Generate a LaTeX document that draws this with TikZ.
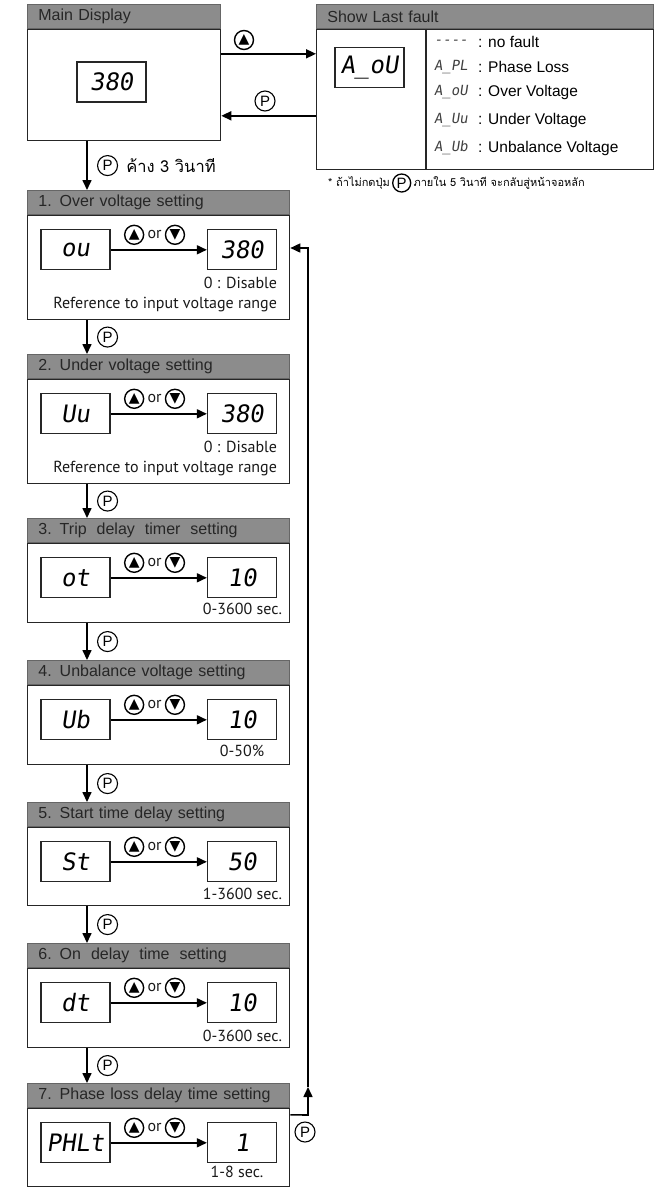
\documentclass[tikz,border=0pt]{standalone}
\usepackage{xcolor}
\usepackage{fontspec}
\usepackage{tikz}
\usetikzlibrary{positioning,arrows.meta}
\setmainfont{Liberation Sans}
\newfontfamily\notefont{PT Sans}
\newfontfamily\segfont[FakeSlant=0.15]{DejaVu Sans Mono}
\newfontfamily\symfont{DejaVu Sans}
\newfontfamily\thaifont[Script=Thai]{Loma}
\definecolor{hdrgray}{RGB}{140,140,140}

\begin{document}
\begin{tikzpicture}[x=1pt, y=-1pt,
    flow/.style={-{Triangle[length=10pt,width=9pt]}, line width=1.6pt},
    header/.style={draw=black!60, fill=hdrgray, line width=0.8pt, anchor=north west,
        minimum height=24pt, inner xsep=11pt, inner ysep=0pt, align=left,
        font=\fontsize{16}{18}\selectfont, text=black!85},
    body/.style={draw=black!85, line width=1.3pt, anchor=north west, inner sep=0pt},
    seg/.style={draw=black!85, line width=1.3pt, minimum width=69pt, minimum height=40pt,
        inner sep=0pt, font=\segfont\fontsize{24}{24}\selectfont},
    btnsym/.style={circle, draw, line width=1.4pt, minimum size=19pt, inner sep=0pt,
        font=\symfont\fontsize{14}{14}\selectfont},
    btnp/.style={circle, draw, line width=1.1pt, minimum size=20pt, inner sep=0pt,
        font=\fontsize{15}{15}\selectfont},
    note/.style={font=\notefont\fontsize{16}{18}\selectfont, inner sep=0pt, text=black!90},
    legend/.style={font=\fontsize{15.5}{17}\selectfont, inner sep=0pt},
    code/.style={font=\segfont\fontsize{14}{14}\selectfont, inner sep=0pt, text=black!75},
    thai/.style={font=\thaifont\fontsize{16.5}{18}\selectfont, inner sep=0pt},
    thaismall/.style={font=\thaifont\fontsize{11}{12}\selectfont, inner sep=0pt}]
    \useasboundingbox (0,0) rectangle (670,1187);

    % main display and last fault
    \node[header, text width=171pt] (hmain) at (27,4) {Main Display};
    \node[body, minimum width=193pt, minimum height=111pt] (bmain) at (hmain.south west) {};
    \node[seg] (dmain) at (111.5,82) {380};
    \node[header, text width=315pt] (hshow) at (316,4) {Show Last fault};
    \node[body, minimum width=337pt, minimum height=140pt] (bshow) at (hshow.south west) {};
    \draw[draw=black!85, line width=1.3pt] ([xshift=110pt]bshow.north west) -- ([xshift=110pt]bshow.south west);
    \node[seg] (dshow) at (369.5,67.5) {A\_oU};
    \foreach \k/\y/\cd/\txt in {1/42/----/no fault, 2/67/A\_PL/Phase Loss,
        3/92/A\_oU/Over Voltage, 4/120/A\_Uu/Under Voltage, 5/148/A\_Ub/Unbalance Voltage}{
        \node[code, anchor=west] (c\k) at (434,\y) {\cd};
        \node[legend, anchor=west] (e\k) at (478,\y) {: \txt};
    }
    \draw[flow] ([yshift=-25pt]bmain.north east) -- ([yshift=-25pt]bshow.north west);
    \draw[flow] ([yshift=-87pt]bshow.north west) -- ([yshift=-87pt]bmain.north east);
    \node[btnsym] (umain) at (244,40) {▲};
    \node[btnp] (pback) at (265,101) {P};

    % footnote
    \node[thaismall, anchor=west] (fn1) at (328,183) {* ถ้าไม่กดปุ่ม};
    \node[btnp, minimum size=18pt, line width=1.3pt, right=2pt of fn1] (fnp) {P};
    \node[thaismall, right=2pt of fnp] (fn2) {ภายใน 5 วินาที จะกลับสู่หน้าจอหลัก};

    % setting blocks
    \foreach \i/\top/\bh/\title/\code/\val in {
        1/190/104/{1. Over voltage setting}/ou/380,
        2/354/104/{2. Under voltage setting}/Uu/380,
        3/518/79/{3. Trip\hspace{10pt}delay\hspace{10pt}timer\hspace{10pt}setting}/ot/10,
        4/660/79/{4. Unbalance voltage setting}/Ub/10,
        5/802/78/{5. Start time delay setting}/St/50,
        6/943/79/{6. On\hspace{10pt}delay\hspace{10pt}time\hspace{10pt}setting}/dt/10,
        7/1083/78/{7. Phase loss delay time setting}/PHLt/1}{
        \node[header, text width=240pt] (h\i) at (27,\top) {\title};
        \node[body, minimum width=262pt, minimum height=\bh pt] (b\i) at (h\i.south west) {};
        \node[seg] (l\i) at ([xshift=48.5pt, yshift=-35pt]b\i.north west) {\code};
        \node[seg] (r\i) at ([xshift=215pt, yshift=-35pt]b\i.north west) {\val};
        \draw[flow] (l\i) -- (r\i);
        \node[btnsym] (u\i) at ([xshift=23.5pt, yshift=15pt]l\i.east) {▲};
        \node[note, right=3pt of u\i] (or\i) {or};
        \node[btnsym, right=3pt of or\i] (d\i) {▼};
    }

    % ranges
    \node[note, anchor=mid east] (n1a) at ([yshift=-15pt]r1.south east) {0 : Disable};
    \node[note, anchor=mid east] (n1b) at ([yshift=-35pt]r1.south east) {Reference to input voltage range};
    \node[note, anchor=mid east] (n2a) at ([yshift=-15pt]r2.south east) {0 : Disable};
    \node[note, anchor=mid east] (n2b) at ([yshift=-35pt]r2.south east) {Reference to input voltage range};
    \node[note, anchor=mid east] (n3) at ([xshift=5pt, yshift=-13pt]r3.south east) {0-3600 sec.};
    \node[note, anchor=mid] (n4) at ([yshift=-13pt]r4.south) {0-50\%};
    \node[note, anchor=mid east] (n5) at ([xshift=5pt, yshift=-14pt]r5.south east) {1-3600 sec.};
    \node[note, anchor=mid east] (n6) at ([xshift=5pt, yshift=-15pt]r6.south east) {0-3600 sec.};
    \node[note, anchor=mid] (n7) at ([xshift=-5pt, yshift=-11pt]r7.south) {1-8 sec.};

    % P steps
    \draw[flow] ([xshift=60pt]bmain.south west) -- ([xshift=60pt]h1.north west)
        node[btnp, midway, right=10pt] (phold) {P};
    \node[thai, right=8pt of phold] (hold) {ค้าง 3 วินาที};
    \foreach \i/\j in {1/2,2/3,3/4,4/5,5/6,6/7}{
        \draw[flow] ([xshift=60pt]b\i.south west) -- ([xshift=60pt]h\j.north west)
            node[btnp, midway, right=10pt] (p\i) {P};
    }

    % back to first setting
    \coordinate (loopA) at (308,1115);
    \coordinate (loopB) at (308,1087);
    \coordinate (loopC) at (308,248);
    \draw[flow] ([yshift=-7pt]b7.north east) -- (loopA) -- (loopB);
    \draw[flow] (loopB) -- (loopC) -- (loopC -| b1.east);
    \node[btnp] (ploop) at (305,1132) {P};
\end{tikzpicture}
\end{document}
